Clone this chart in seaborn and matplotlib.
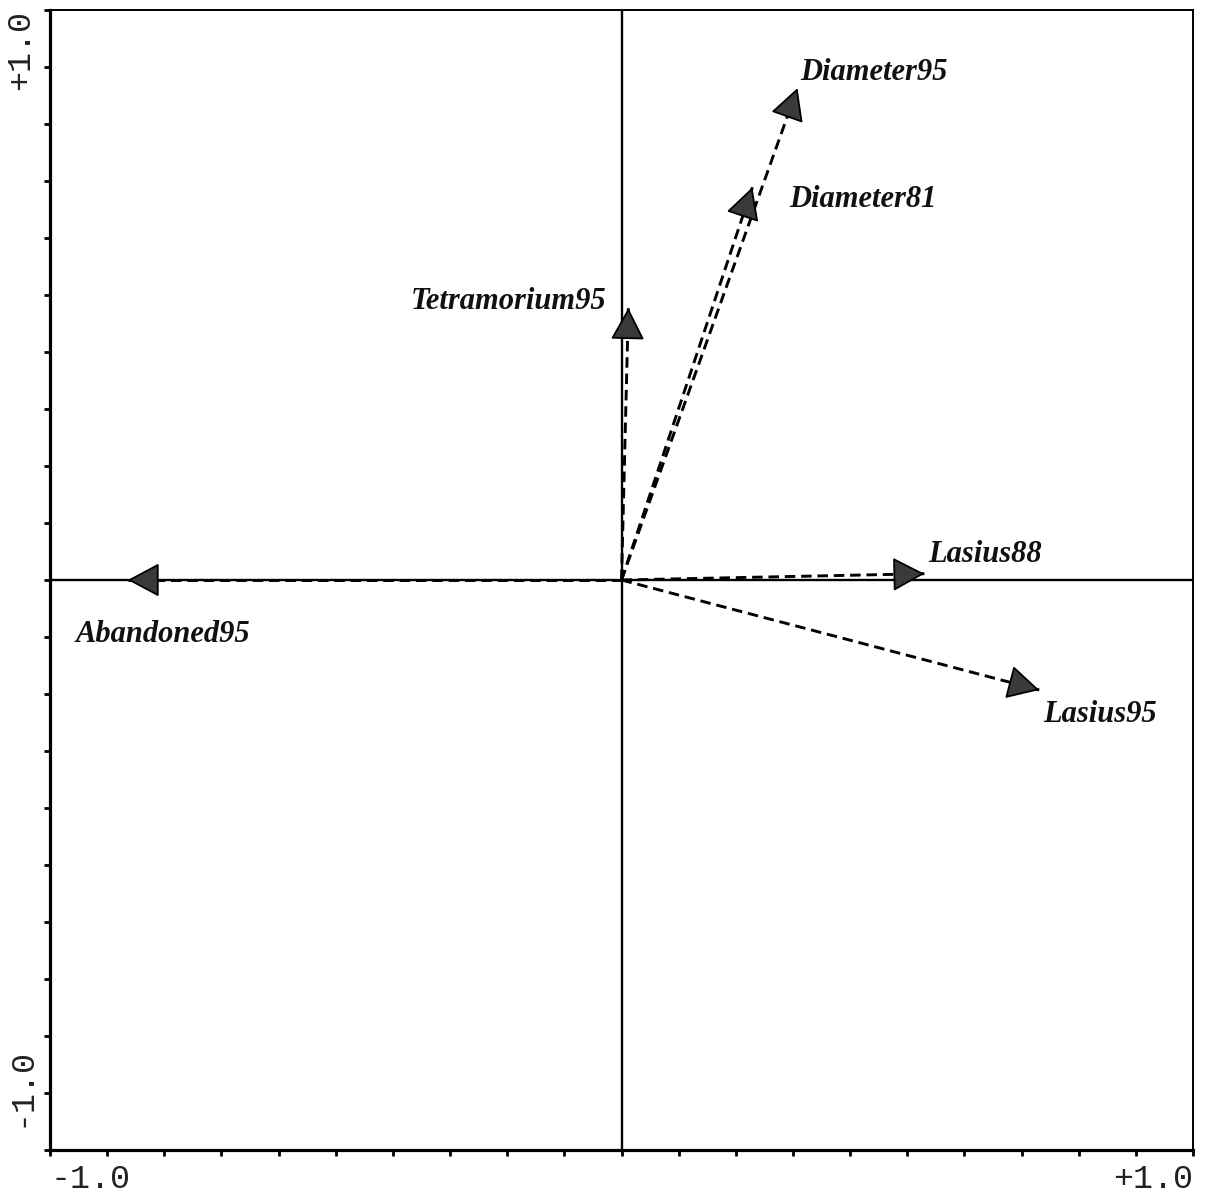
import numpy as np
import pandas as pd
import matplotlib
matplotlib.use("Agg")
import matplotlib.pyplot as plt
import seaborn as sns

# Biplot vectors (axis 1, axis 2)
variables = ["Diameter95", "Diameter81", "Tetramorium95", "Lasius88", "Lasius95", "Abandoned95"]
axis1 = [0.308, 0.229, 0.012, 0.530, 0.731, -0.864]
axis2 = [0.863, 0.689, 0.477, 0.011, -0.193, 0.000]

# label placement relative to each arrow tip (pixels) and alignment
label_offsets = {
    "Diameter95": (3, 16, "left"),
    "Diameter81": (37, -12, "left"),
    "Tetramorium95": (-22, 7, "right"),
    "Lasius88": (4, 19, "left"),
    "Lasius95": (4, -24, "left"),
    "Abandoned95": (-52, -54, "left"),
}

sns.set_theme(style="white")
plt.rcParams["font.family"] = ["Liberation Serif", "DejaVu Serif"]

fig = plt.figure(figsize=(12.05, 11.95), dpi=100)
ax = fig.add_axes([50 / 1205, 45 / 1195, 1143 / 1205, 1140 / 1195])
ax.set_xlim(-1, 1)
ax.set_ylim(-1, 1)

# Shafts: origin -> tip, one line per variable
rows = []
for name, x, y in zip(variables, axis1, axis2):
    rows.append({"var": name, "order": 0, "x": 0.0, "y": 0.0})
    rows.append({"var": name, "order": 1, "x": x, "y": y})
df = pd.DataFrame(rows)

# centre cross
ax.axhline(0, color="black", lw=1.7, zorder=1)
ax.axvline(0, color="black", lw=1.7, zorder=1)

sns.lineplot(data=df, x="x", y="y", units="var", estimator=None, sort=False,
             color="black", lw=2.1, linestyle=(0, (3.6, 2.0)), ax=ax, zorder=2)

# Heads and labels
for name, x, y in zip(variables, axis1, axis2):
    r = np.hypot(x, y)
    ux, uy = x / r, y / r
    ax.annotate("", xy=(x, y), xytext=(x - 0.02 * ux, y - 0.02 * uy),
                arrowprops=dict(arrowstyle="-|>,head_length=1.35,head_width=0.72",
                                mutation_scale=15, fc="#3a3a3a", ec="black",
                                lw=1.3, shrinkA=0, shrinkB=0),
                zorder=3)
    dx, dy, ha = label_offsets[name]
    ax.annotate(name, xy=(x, y), xytext=(dx, dy), textcoords="offset pixels",
                ha=ha, va="center", fontsize=22, fontweight="bold",
                fontstyle="italic", color="#111111", zorder=4)

# Frame
for side in ["left", "bottom"]:
    ax.spines[side].set_linewidth(2.3)
    ax.spines[side].set_color("black")
for side in ["top", "right"]:
    ax.spines[side].set_linewidth(1.4)
    ax.spines[side].set_color("black")

ticks = np.round(np.arange(-1.0, 1.01, 0.1), 1)
ax.set_xticks(ticks)
ax.set_yticks(ticks)
ax.set_xticklabels([])
ax.set_yticklabels([])
ax.tick_params(axis="both", which="both", direction="out", length=4, width=2,
               color="black", bottom=True, left=True, top=False, right=False)
ax.set_xlabel("")
ax.set_ylabel("")

# End labels of the axes
mono = ["Liberation Mono", "DejaVu Sans Mono"]
tk = dict(fontsize=24, family=mono, color="#222222")
ax.text(0.0, -0.012, "-1.0", transform=ax.transAxes, ha="left", va="top", **tk)
ax.text(1.0, -0.012, "+1.0", transform=ax.transAxes, ha="right", va="top", **tk)
ax.text(-0.012, 1.0, "+1.0", transform=ax.transAxes, ha="right", va="top",
        rotation=90, **tk)
ax.text(-0.012, 0.02, "-1.0", transform=ax.transAxes, ha="right", va="bottom",
        rotation=90, **tk)

fig.savefig("out.png", dpi=100, facecolor="white")
